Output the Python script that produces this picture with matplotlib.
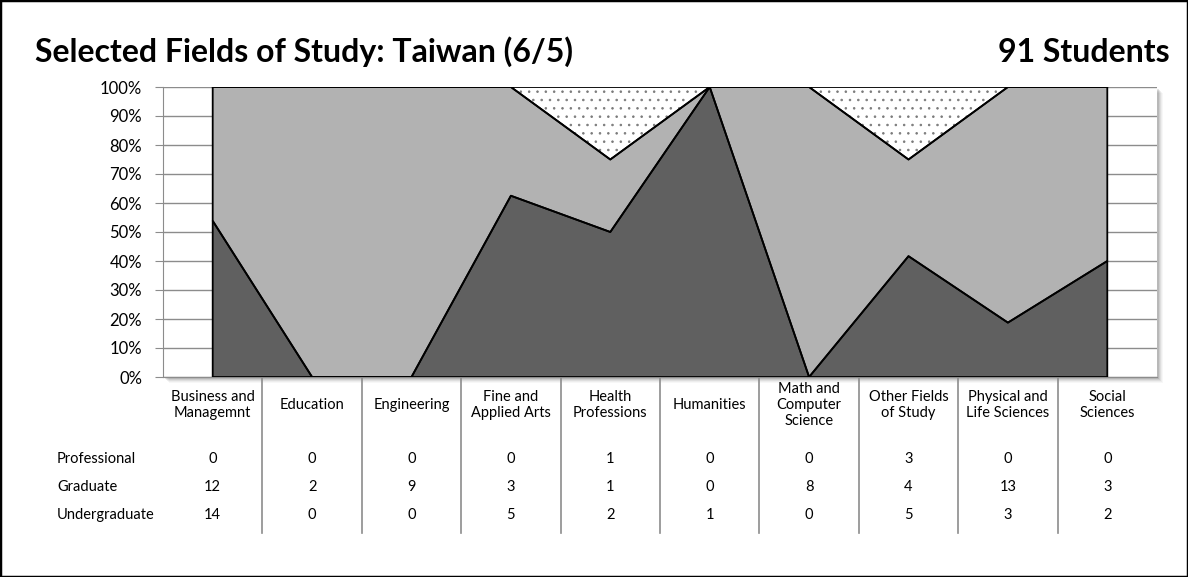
import matplotlib
matplotlib.use("Agg")
import matplotlib.pyplot as plt
import matplotlib.transforms as mtransforms
from matplotlib.patches import Rectangle
import numpy as np

# data
fields = ["Business and\nManagemnt", "Education", "Engineering", "Fine and\nApplied Arts",
          "Health\nProfessions", "Humanities", "Math and\nComputer\nScience",
          "Other Fields\nof Study", "Physical and\nLife Sciences", "Social\nSciences"]
professional = [0, 0, 0, 0, 1, 0, 0, 3, 0, 0]
graduate = [12, 2, 9, 3, 1, 0, 8, 4, 13, 3]
undergraduate = [14, 0, 0, 5, 2, 1, 0, 5, 3, 2]
row_names = ["Professional", "Graduate", "Undergraduate"]
title = "Selected Fields of Study: Taiwan (6/5)"
total_label = "91 Students"

plt.rcParams['font.family'] = ['Lato', 'DejaVu Sans']
plt.rcParams['hatch.linewidth'] = 0.6

W, H = 1188, 577
fig = plt.figure(figsize=(W / 100, H / 100), dpi=100)

def fy(px):
    return 1 - px / H

def fx(px):
    return px / W

ax_l, ax_r, ax_t, ax_b = 163, 1157, 87, 377
ax = fig.add_axes([fx(ax_l), fy(ax_b), fx(ax_r - ax_l), (ax_b - ax_t) / H])

# soft shadow behind the plot area
for i, a in enumerate([0.10, 0.08, 0.06, 0.04, 0.03]):
    off = i + 2
    fig.patches.append(Rectangle((fx(ax_l + off), fy(ax_b + off)), fx(ax_r - ax_l), (ax_b - ax_t) / H,
                                 transform=fig.transFigure, facecolor='black', alpha=a,
                                 edgecolor='none', zorder=-5))
fig.patches.append(Rectangle((fx(ax_l), fy(ax_b)), fx(ax_r - ax_l), (ax_b - ax_t) / H,
                             transform=fig.transFigure, facecolor='white', edgecolor='none', zorder=-4))
ax.set_facecolor('none')

tot = np.array(professional) + np.array(graduate) + np.array(undergraduate)
ug = np.array(undergraduate) / tot * 100
gr = np.array(graduate) / tot * 100
pr = np.array(professional) / tot * 100
x = np.arange(len(fields))

polys = ax.stackplot(x, ug, gr, pr, colors=['#606060', '#b2b2b2', 'white'], lw=0, zorder=2)
polys[2].set_hatch('..')
polys[2].set_edgecolor('#7a7a7a')
ax.stackplot(x, ug, gr, pr, colors=['none'] * 3, edgecolor='black', lw=1.3, zorder=3)

ax.set_xlim(-0.5, len(fields) - 0.5)
ax.set_ylim(0, 100)
ax.set_yticks(np.arange(0, 101, 10))
ax.set_yticklabels([f"{v}%" for v in range(0, 101, 10)], fontsize=12)
ax.yaxis.grid(True, color='#8c8c8c', lw=1)
ax.set_axisbelow(True)
ax.set_xticks([])
for s in ['top', 'right']:
    ax.spines[s].set_visible(False)
ax.spines['left'].set_color('#8c8c8c')
ax.spines['bottom'].set_color('#8c8c8c')
ax.tick_params(axis='y', length=6, color='#8c8c8c', pad=9)

# data table under the chart
tr = mtransforms.blended_transform_factory(ax.transData, fig.transFigure)
for i, f in enumerate(fields):
    ax.text(i, fy(405), f, transform=tr, ha='center', va='center', fontsize=10.5,
            linespacing=1.2, clip_on=False)
    for j, vals in enumerate([professional, graduate, undergraduate]):
        ax.text(i, fy(459 + 28 * j), str(vals[i]), transform=tr, ha='center', va='center',
                fontsize=10.5, clip_on=False)
for i in range(len(fields) - 1):
    ax.plot([i + 0.5, i + 0.5], [fy(378), fy(533)], transform=tr, color='#8c8c8c', lw=1.2,
            clip_on=False)
for j, name in enumerate(row_names):
    fig.text(fx(57), fy(459 + 28 * j), name, ha='left', va='center', fontsize=10.5)

fig.text(fx(35), fy(52), title, ha='left', va='center', fontsize=23, fontweight='bold')
fig.text(fx(1170), fy(52), total_label, ha='right', va='center', fontsize=23, fontweight='bold')

fig.patches.append(Rectangle((0, 0), 1, 1, transform=fig.transFigure, facecolor='none',
                             edgecolor='black', lw=2.5, zorder=10))

fig.savefig("out.png", dpi=100)
